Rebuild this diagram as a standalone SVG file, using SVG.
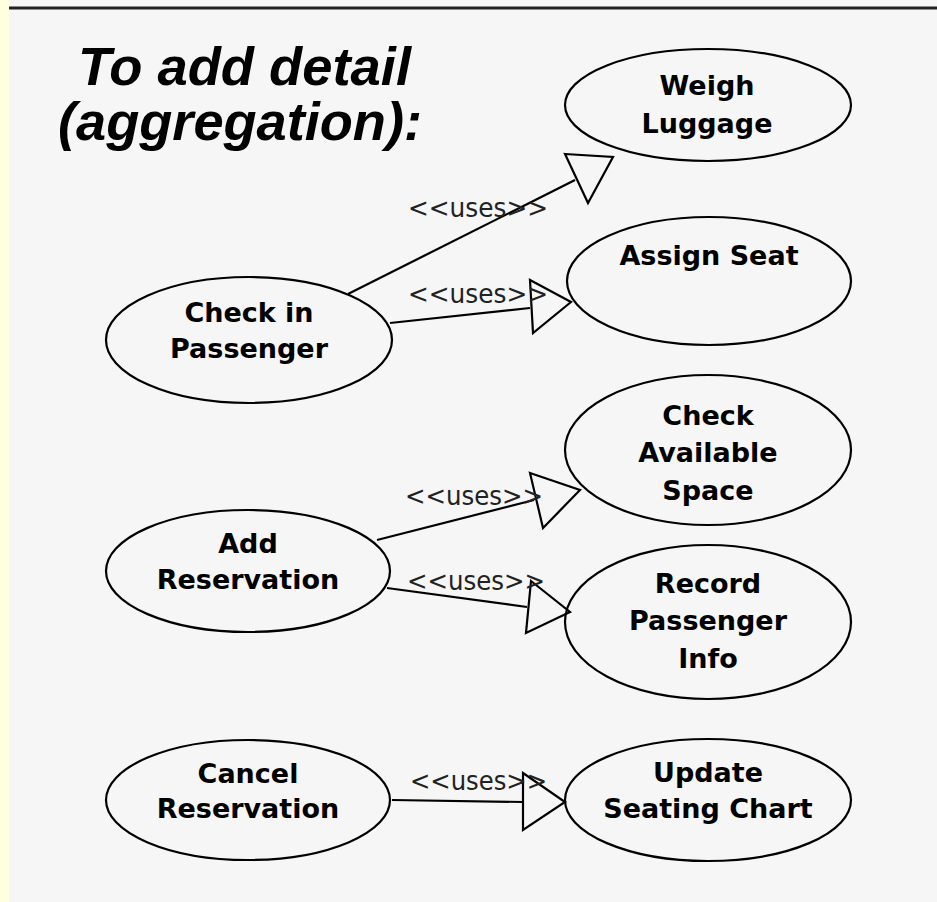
<svg xmlns="http://www.w3.org/2000/svg" width="937" height="902" viewBox="0 0 937 902">
  <style>
    .uc { fill: none; stroke: #000; stroke-width: 2.2; }
    .uc-text { font-family: "DejaVu Sans", "Liberation Sans", sans-serif; font-weight: bold; font-size: 27px; fill: #000; text-anchor: middle; }
    .link { stroke: #000; stroke-width: 2.2; fill: none; }
    .head { stroke: #000; stroke-width: 2.2; fill: none; stroke-linejoin: miter; }
    .stereo { font-family: "DejaVu Sans", "Liberation Sans", sans-serif; font-size: 26px; fill: #222; }
    .title { font-family: "Liberation Sans", Arial, sans-serif; font-weight: bold; font-style: italic; font-size: 54px; fill: #000; }
  </style>

  <!-- page background, margin strip and top rule -->
  <rect x="0" y="0" width="937" height="902" fill="#F6F6F6"/>
  <rect x="0" y="0" width="9" height="902" fill="#FFFFE0"/>
  <line x1="9" y1="8" x2="937" y2="8" stroke="#222" stroke-width="3"/>

  <!-- heading -->
  <g id="heading">
    <text class="title" x="78" y="85" textLength="333" lengthAdjust="spacingAndGlyphs">To add detail</text>
    <text class="title" x="58" y="140" textLength="364" lengthAdjust="spacingAndGlyphs">(aggregation):</text>
  </g>

  <!-- use cases -->
  <g id="check-in-passenger">
    <ellipse class="uc" cx="249" cy="340" rx="143" ry="63"/>
    <text class="uc-text" x="249" y="322">Check in</text>
    <text class="uc-text" x="249" y="358">Passenger</text>
  </g>
  <g id="add-reservation">
    <ellipse class="uc" cx="248" cy="571" rx="142" ry="61"/>
    <text class="uc-text" x="248" y="553">Add</text>
    <text class="uc-text" x="248" y="589">Reservation</text>
  </g>
  <g id="cancel-reservation">
    <ellipse class="uc" cx="248" cy="800" rx="142" ry="60"/>
    <text class="uc-text" x="248" y="783">Cancel</text>
    <text class="uc-text" x="248" y="818">Reservation</text>
  </g>
  <g id="weigh-luggage">
    <ellipse class="uc" cx="708" cy="105" rx="143" ry="56"/>
    <text class="uc-text" x="707" y="95">Weigh</text>
    <text class="uc-text" x="707" y="133">Luggage</text>
  </g>
  <g id="assign-seat">
    <ellipse class="uc" cx="709" cy="281" rx="142" ry="64"/>
    <text class="uc-text" x="709" y="265">Assign Seat</text>
  </g>
  <g id="check-available-space">
    <ellipse class="uc" cx="708" cy="450" rx="143" ry="75"/>
    <text class="uc-text" x="708" y="425">Check</text>
    <text class="uc-text" x="708" y="462">Available</text>
    <text class="uc-text" x="708" y="500">Space</text>
  </g>
  <g id="record-passenger-info">
    <ellipse class="uc" cx="708" cy="622" rx="143" ry="77"/>
    <text class="uc-text" x="708" y="593">Record</text>
    <text class="uc-text" x="708" y="630">Passenger</text>
    <text class="uc-text" x="708" y="668">Info</text>
  </g>
  <g id="update-seating-chart">
    <ellipse class="uc" cx="708" cy="800" rx="143" ry="61"/>
    <text class="uc-text" x="708" y="782">Update</text>
    <text class="uc-text" x="708" y="818">Seating Chart</text>
  </g>

  <!-- <<uses>> relationships -->
  <g id="connectors">
    <line class="link" x1="348" y1="294" x2="575" y2="180"/>
    <polygon class="head" points="565,154 613,157 588,203"/>
    <text class="stereo" x="408" y="217" textLength="140" lengthAdjust="spacingAndGlyphs">&lt;&lt;uses&gt;&gt;</text>

    <line class="link" x1="390" y1="323" x2="530" y2="308"/>
    <polygon class="head" points="530,280 571,302 533,333"/>
    <text class="stereo" x="408" y="303" textLength="140" lengthAdjust="spacingAndGlyphs">&lt;&lt;uses&gt;&gt;</text>

    <line class="link" x1="377" y1="540" x2="534" y2="500"/>
    <polygon class="head" points="530,473 580,490 543,528"/>
    <text class="stereo" x="405" y="505" textLength="138" lengthAdjust="spacingAndGlyphs">&lt;&lt;uses&gt;&gt;</text>

    <line class="link" x1="387" y1="588" x2="527" y2="607"/>
    <polygon class="head" points="531,581 570,612 526,633"/>
    <text class="stereo" x="407" y="590" textLength="138" lengthAdjust="spacingAndGlyphs">&lt;&lt;uses&gt;&gt;</text>

    <line class="link" x1="392" y1="800" x2="523" y2="802"/>
    <polygon class="head" points="523,773 565,802 523,830"/>
    <text class="stereo" x="410" y="790" textLength="137" lengthAdjust="spacingAndGlyphs">&lt;&lt;uses&gt;&gt;</text>
  </g>
</svg>
